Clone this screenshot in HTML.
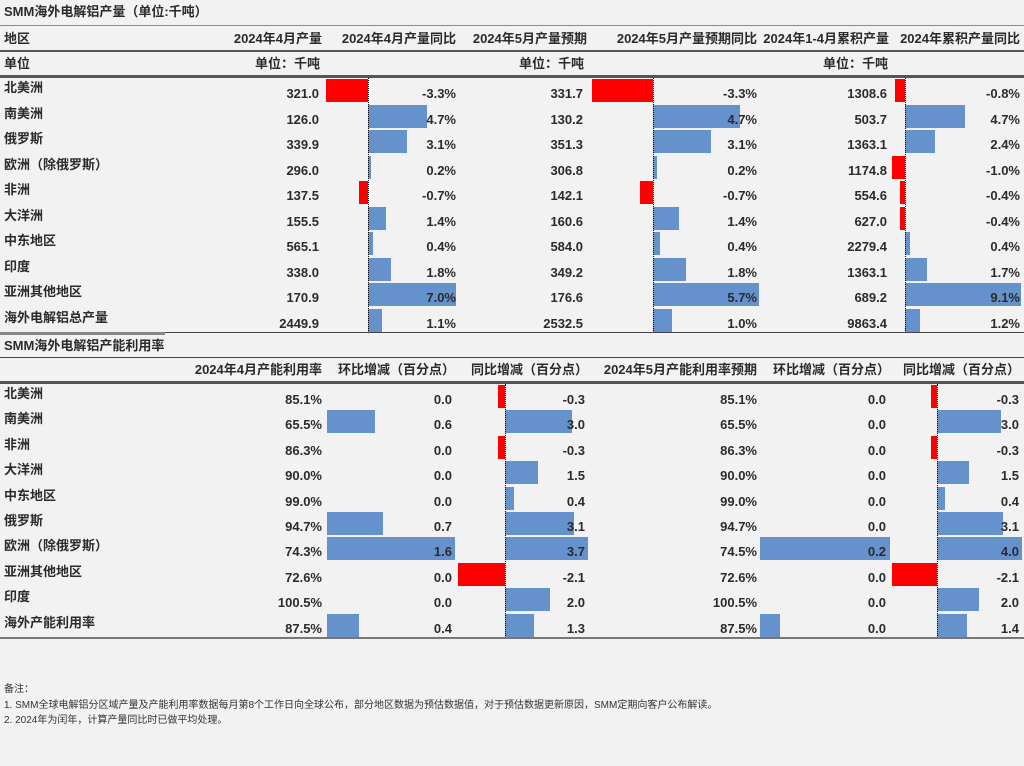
<!DOCTYPE html>
<html><head><meta charset="utf-8">
<style>
html,body{margin:0;padding:0;}
body{width:1024px;height:766px;background:#f2f2f2;position:relative;overflow:hidden;font-family:"Liberation Sans","Noto Sans CJK SC",sans-serif;color:#2b2b2b;}
.t{position:absolute;font-size:13px;font-weight:bold;white-space:nowrap;line-height:16px;}
.r{text-align:right;}
.ln{position:absolute;}
.bar{position:absolute;}
.ax{position:absolute;width:0;border-left:1px dotted #000;}
.note{position:absolute;font-size:10px;left:4px;white-space:nowrap;color:#333;}
</style></head>
<body>
<div id="root"></div>
<div class="note" style="top:680px">备注：</div>
<div class="note" style="top:696px">1. SMM全球电解铝分区域产量及产能利用率数据每月第8个工作日向全球公布，部分地区数据为预估数据值，对于预估数据更新原因，SMM定期向客户公布解读。</div>
<div class="note" style="top:711px">2. 2024年为闰年，计算产量同比时已做平均处理。</div>
<script>
const regions1=["北美洲","南美洲","俄罗斯","欧洲（除俄罗斯）","非洲","大洋洲","中东地区","印度","亚洲其他地区","海外电解铝总产量"];
const aprProd=[321.0,126.0,339.9,296.0,137.5,155.5,565.1,338.0,170.9,2449.9];
const aprYoY=[-3.3,4.7,3.1,0.2,-0.7,1.4,0.4,1.8,7.0,1.1];
const mayProd=[331.7,130.2,351.3,306.8,142.1,160.6,584.0,349.2,176.6,2532.5];
const mayYoY=[-3.3,4.7,3.1,0.2,-0.7,1.4,0.4,1.8,5.7,1.0];
const cumProd=[1308.6,503.7,1363.1,1174.8,554.6,627.0,2279.4,1363.1,689.2,9863.4];
const cumYoY=[-0.8,4.7,2.4,-1.0,-0.4,-0.4,0.4,1.7,9.1,1.2];
const regions2=["北美洲","南美洲","非洲","大洋洲","中东地区","俄罗斯","欧洲（除俄罗斯）","亚洲其他地区","印度","海外产能利用率"];
const aprUtil=["85.1%","65.5%","86.3%","90.0%","99.0%","94.7%","74.3%","72.6%","100.5%","87.5%"];
const aprMoM=[0.0,0.6,0.0,0.0,0.0,0.7,1.6,0.0,0.0,0.4];
const aprUtilYoY=[-0.3,3.0,-0.3,1.5,0.4,3.1,3.7,-2.1,2.0,1.3];
const mayUtil=["85.1%","65.5%","86.3%","90.0%","99.0%","94.7%","74.5%","72.6%","100.5%","87.5%"];
const mayMoM=[0.0,0.0,0.0,0.0,0.0,0.0,0.2,0.0,0.0,0.03];
const mayUtilYoY=[-0.3,3.0,-0.3,1.5,0.4,3.1,4.0,-2.1,2.0,1.4];

const root=document.getElementById('root');
function add(cls,style,text,name){
  const d=document.createElement('div');d.className=cls;d.style.cssText=style;
  if(text!==undefined)d.textContent=text;
  
  
  root.appendChild(d);return d;
}
function line(y,x1,x2,h,c,name){add('ln',`top:${y}px;left:${x1}px;width:${x2-x1}px;height:${h}px;background:${c}`,undefined,name);}
function txt(x,y,s,right,name){
  if(right) add('t r',`top:${y}px;left:${x-200}px;width:200px`,s,name);
  else add('t',`top:${y}px;left:${x}px`,s,name);
}
// bar column: axis px, scale px/unit
function barCol(vals,top0,pitch,axis,scale,name){
  vals.forEach((v,i)=>{
    const y=top0+i*pitch+1;const w=Math.abs(v)*scale;
    const x=v<0?axis-w:axis;
    add('bar',`top:${y}px;left:${x}px;width:${w}px;height:23px;background:${v<0?'#ff0000':'#6592cd'}`,undefined,name+'-bar');
  });
}
function axisLine(x,y1,y2,name){add('ax',`left:${x}px;top:${y1}px;height:${y2-y1}px`,undefined,name);}

// Section 1
txt(4,4,"SMM海外电解铝产量（单位:千吨）",false,'section1-title');
line(25,0,1024,1,'#888','title-rule');
txt(4,31,"地区",false,'header-region');
const h1=[[322,"2024年4月产量"],[456,"2024年4月产量同比"],[587,"2024年5月产量预期"],[757,"2024年5月产量预期同比"],[889,"2024年1-4月累积产量"],[1020,"2024年累积产量同比"]];
h1.forEach(h=>txt(h[0],31,h[1],true,'column-header'));
line(50,0,1024,2,'#555','header-rule');
txt(4,56,"单位",false,'unit-label');
txt(320,56,"单位：千吨",true,'unit-value');
txt(584,56,"单位：千吨",true,'unit-value');
txt(888,56,"单位：千吨",true,'unit-value');
line(75,0,1024,3,'#555','unit-rule');
const T1=78,P1=25.5;
barCol(aprYoY,T1,P1,368,12.6,'apr-yoy');
barCol(mayYoY,T1,P1,653,18.6,'may-yoy');
barCol(cumYoY,T1,P1,905,12.7,'cum-yoy');
axisLine(368,T1,T1+10*P1,'apr-yoy-axis');
axisLine(653,T1,T1+10*P1,'may-yoy-axis');
axisLine(905,T1,T1+10*P1,'cum-yoy-axis');
regions1.forEach((r,i)=>{
  const y=T1+i*P1;
  txt(4,y+2,r,false,'region-label');
  txt(319,y+8,aprProd[i].toFixed(1),true,'apr-production');
  txt(456,y+8,aprYoY[i].toFixed(1)+'%',true,'apr-yoy-value');
  txt(583,y+8,mayProd[i].toFixed(1),true,'may-production');
  txt(757,y+8,mayYoY[i].toFixed(1)+'%',true,'may-yoy-value');
  txt(887,y+8,cumProd[i].toFixed(1),true,'cum-production');
  txt(1020,y+8,cumYoY[i].toFixed(1)+'%',true,'cum-yoy-value');
});
line(332,0,165,3,'#888','section-split-thick');
line(332,165,1024,1,'#444','section-split');

// Section 2
txt(4,338,"SMM海外电解铝产能利用率",false,'section2-title');
line(357,0,1024,1,'#444','title2-rule');
const h2=[[322,"2024年4月产能利用率"],[455,"环比增减（百分点）"],[588,"同比增减（百分点）"],[757,"2024年5月产能利用率预期"],[890,"环比增减（百分点）"],[1020,"同比增减（百分点）"]];
h2.forEach(h=>txt(h[0],362,h[1],true,'column-header-2'));
line(381,0,1024,3,'#555','header2-rule');
const T2=384,P2=25.4;
barCol(aprMoM,T2,P2,327,80,'apr-mom');
barCol(aprUtilYoY,T2,P2,505,22.3,'apr-util-yoy');
barCol(mayMoM,T2,P2,760,650,'may-mom');
barCol(mayUtilYoY,T2,P2,937,21.2,'may-util-yoy');
axisLine(505,T2,T2+10*P2,'apr-util-yoy-axis');
axisLine(937,T2,T2+10*P2,'may-util-yoy-axis');
regions2.forEach((r,i)=>{
  const y=T2+i*P2;
  txt(4,y+2,r,false,'region-label-2');
  txt(322,y+8,aprUtil[i],true,'apr-utilization');
  txt(452,y+8,aprMoM[i].toFixed(1),true,'apr-mom-value');
  txt(585,y+8,aprUtilYoY[i].toFixed(1),true,'apr-util-yoy-value');
  txt(757,y+8,mayUtil[i],true,'may-utilization');
  txt(886,y+8,mayMoM[i].toFixed(1),true,'may-mom-value');
  txt(1019,y+8,mayUtilYoY[i].toFixed(1),true,'may-util-yoy-value');
});
line(637,0,1024,2,'#777','bottom-rule');
</script>
</body></html>
